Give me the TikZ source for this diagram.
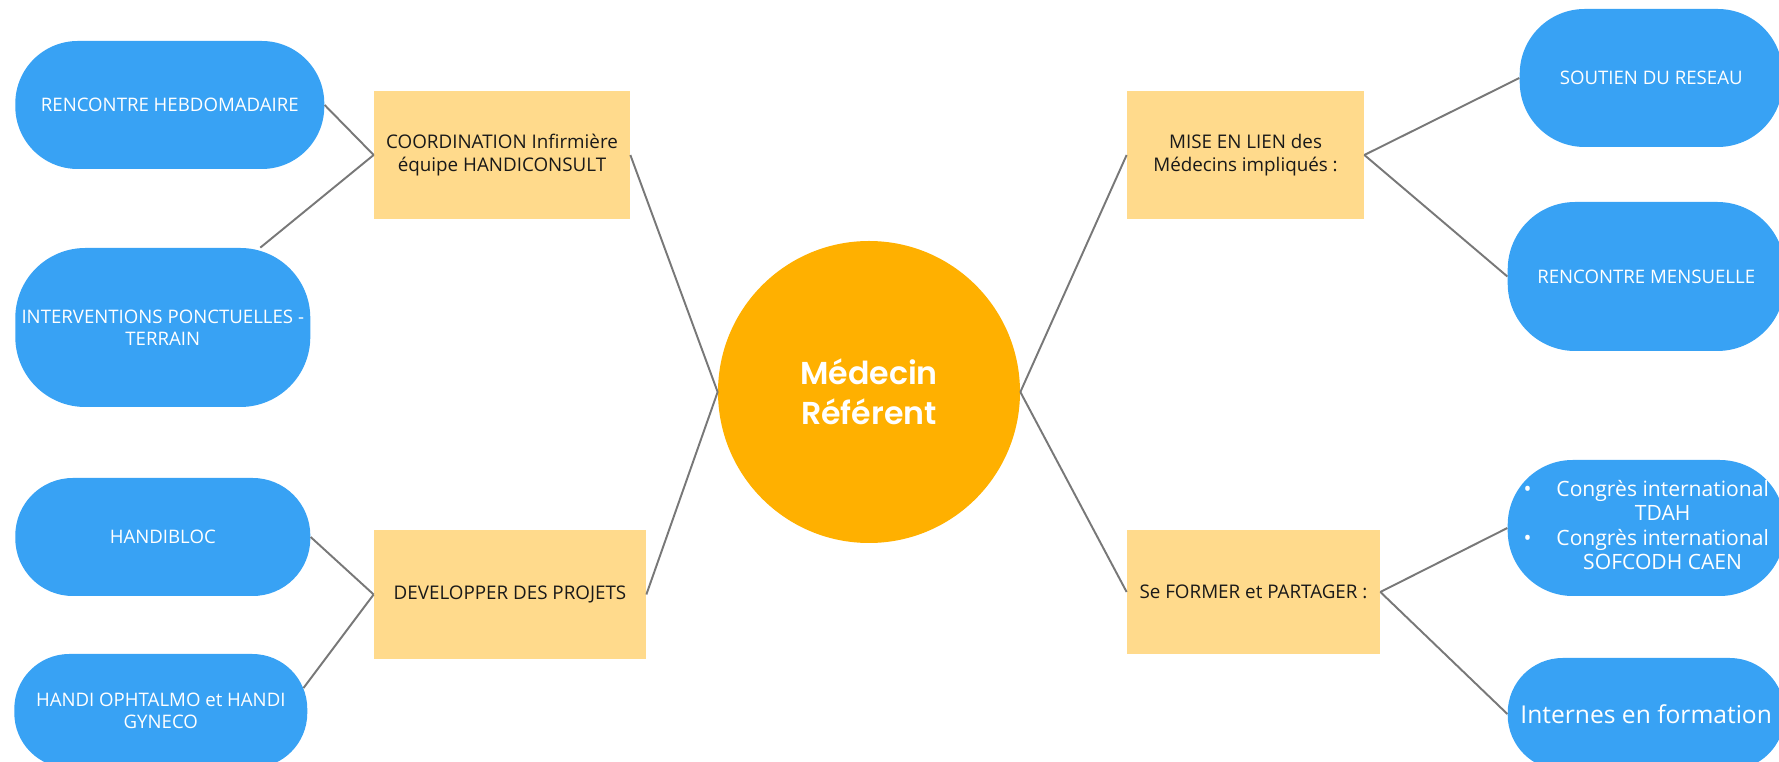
\documentclass[tikz,border=0pt]{standalone}
\usepackage{fontspec}
\setmainfont{Open Sans}
\newfontfamily\titlefont{Poppins}[BoldFont={Poppins SemiBold}]
\usepackage{xcolor}
\usetikzlibrary{positioning}

\definecolor{pillblue}{HTML}{38A2F4}
\definecolor{boxyellow}{HTML}{FFDA8C}
\definecolor{hubgold}{HTML}{FFB000}
\definecolor{linkgrey}{RGB}{120,120,120}

\begin{document}
\begin{tikzpicture}[
		hub/.style={circle, fill=hubgold, text=white, minimum size=6.04cm, inner sep=0pt,
			align=center, font=\titlefont\bfseries\fontsize{18}{22.8}\selectfont},
		branch/.style={rectangle, fill=boxyellow, text=black!90, inner sep=0pt,
			align=center, font=\fontsize{10.7}{13}\selectfont},
		leaf/.style={rectangle, rounded corners=#1, fill=pillblue, text=white, inner sep=0pt,
			align=center, font=\fontsize{10.6}{12.5}\selectfont},
		leaf/.default=1.2cm,
		link/.style={draw=linkgrey, line width=1.1pt}
	]
		\useasboundingbox (0,0) rectangle (35.58,15.24);
		
		% centre
		\node[hub] (medecin) at (17.38,7.40) {Médecin\\Référent};
		
		% yellow branches
		\node[branch, minimum width=5.12cm, minimum height=2.56cm] (coord) at (10.04,12.14) {COORDINATION Infirmière\\équipe HANDICONSULT};
		\node[branch, minimum width=5.44cm, minimum height=2.58cm] (devel) at (10.20,3.35) {DEVELOPPER DES PROJETS};
		\node[branch, minimum width=4.74cm, minimum height=2.56cm] (lien) at (24.91,12.14) {MISE EN LIEN des\\Médecins impliqués :};
		\node[branch, minimum width=5.06cm, minimum height=2.48cm] (former) at (25.07,3.40) {Se FORMER et PARTAGER :};
		
		% left leaves
		\node[leaf=1.25cm, minimum width=6.18cm, minimum height=2.56cm, left=0.98cm of coord, yshift=1cm] (hebdo) {RENCONTRE HEBDOMADAIRE};
		\node[leaf=1.4cm, minimum width=5.90cm, minimum height=3.18cm, left=1.26cm of coord, yshift=-3.45cm] (interv) {INTERVENTIONS PONCTUELLES -\\TERRAIN};
		\node[leaf=1.15cm, minimum width=5.90cm, minimum height=2.36cm, left=1.26cm of devel, yshift=1.15cm] (handibloc) {HANDIBLOC};
		\node[leaf=1.1cm, minimum width=5.86cm, minimum height=2.28cm, left=1.32cm of devel, yshift=-2.33cm] (ophtalmo) {HANDI OPHTALMO et HANDI\\GYNECO};
		
		% right leaves
		\node[leaf=1.3cm, minimum width=5.26cm, minimum height=2.76cm, right=3.10cm of lien, yshift=1.54cm] (soutien) {SOUTIEN DU RESEAU};
		\node[leaf=1.35cm, minimum width=5.54cm, minimum height=2.98cm, right=2.86cm of lien, yshift=-2.43cm] (mensuelle) {RENCONTRE MENSUELLE};
		\node[leaf=1.3cm, minimum width=5.54cm, minimum height=2.72cm, right=2.54cm of former, yshift=1.28cm,
			font=\fontsize{12}{14}\selectfont] (congres) {\begin{tabular}{@{}l@{\hspace{0.5cm}}c@{}}
				\textbullet & Congrès international\\
				& TDAH\\
				\textbullet & Congrès international\\
				& SOFCODH CAEN
		\end{tabular}};
		\node[leaf=1.1cm, minimum width=5.54cm, minimum height=2.24cm, right=2.54cm of former, yshift=-2.44cm,
			font=\fontsize{14}{17}\selectfont] (internes) {Internes en formation};
		
		% connectors
		\draw[link] (coord.west) -- (hebdo.east);
		\draw[link] (coord.west) -- (interv);
		\draw[link] (devel.west) -- (handibloc.east);
		\draw[link, shorten >=-0.14cm] (devel.west) -- (ophtalmo.11);
		\draw[link] (coord.east) -- (medecin.west);
		\draw[link] (devel.east) -- (medecin.west);
		\draw[link] (medecin.east) -- (lien.west);
		\draw[link] (medecin.east) -- (former.west);
		\draw[link] (lien.east) -- (soutien.west);
		\draw[link] (lien.east) -- (mensuelle.west);
		\draw[link] (former.east) -- (congres.west);
		\draw[link] (former.east) -- (internes.west);
	\end{tikzpicture}
\end{document}
